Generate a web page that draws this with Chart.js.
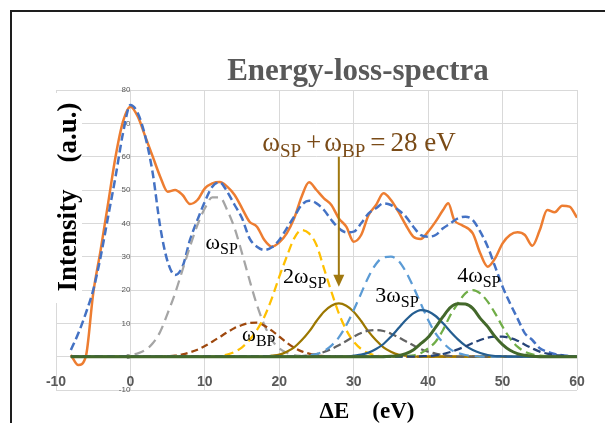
<!DOCTYPE html>
<html>
<head>
<meta charset="utf-8">
<script src="https://cdn.jsdelivr.net/npm/chart.js@4.4.1/dist/chart.umd.min.js"></script>
<style>
html, body { margin: 0; padding: 0; background: #fff; }
#wrap { width: 605px; height: 423px; position: relative; }
</style>
</head>
<body>
<div id="wrap"><canvas id="chart"></canvas></div>
<script>
'use strict';

// measured spectrum (orange)
const expX = [-8, -7, -6, -5, -4, -3, -2, -1, 0, 1, 2, 3, 4, 5, 6, 7, 8, 9, 10,
    11, 12, 13, 14, 15, 16, 17, 18, 19, 20, 21, 22, 23, 24, 25, 26, 27, 28, 29, 30,
    31, 32, 33, 34, 35, 36, 37, 38, 39, 40, 41, 42, 42.7, 43.5, 44.5,
    46, 47, 48, 49, 50, 51, 52, 53, 54, 55, 56, 57, 58, 59, 60];
const expY = [0.5, -2.5, 0, 19, 32, 46, 60, 70.5, 75,
    72, 66, 60, 54, 49.5, 50, 48.5, 45.8, 47, 50.5,
    52, 52.4, 51, 48.5, 44.5, 40.5, 39, 35, 33, 34.3,
    37, 41.5, 48, 52.3, 50, 47.5, 45.5, 41.5, 39, 34.5,
    36.5, 42.5, 45.5, 49, 47, 43.5, 39.5, 36, 35.3, 37.5,
    40.5, 44, 46, 41, 39.5,
    37, 31, 27, 29.5, 34, 36.5, 37.3, 36.5, 33.3, 38, 44, 43.3, 45.3, 45, 41.7];

// fitted sum (blue dashed), x = -8 .. 60
const fitStart = -8;
const fitY = [2, 7, 13, 20, 30, 42, 54, 67, 75.5,
    73, 66, 55, 39, 28.5, 24.5, 27, 35, 41, 46.5,
    51, 52.3, 49.5, 45.5, 41.5, 35.5, 33, 32, 32.8, 35,
    38.5, 42, 45.5, 46.8, 46, 44, 41, 38.5, 37.3, 37.5,
    40, 43, 44.5, 46, 45.5, 44, 42, 39, 36.5, 36,
    36.5, 38.5, 40, 41.5, 42, 41, 37.5, 33, 27, 21,
    16, 11.5, 7, 5, 2.5, 1.5, 0.8, 0.4, 0.2, 0];

// fitted components (start x, then one value per eV)
const spStart = -1;
const spY = [0, 0.5, 1, 2, 4, 7.5, 13, 19, 26, 33, 39.5, 44.5, 47.8, 47.8, 44, 38.5,
    31, 23, 15.5, 9.5, 5, 2.5, 1.2, 0.5, 0.2, 0];
const bpStart = 4;
const bpY = [0, 0.1, 0.3, 0.7, 1.3, 2.1, 3.2, 4.5, 5.9, 7.3, 8.6, 9.5, 10.1, 10.2,
    9.3, 7.8, 6, 4.2, 2.7, 1.6, 0.9, 0.4, 0.2, 0];
const sp2Start = 11;
const sp2Y = [0, 0.2, 0.6, 1.4, 2.8, 5, 8, 12, 17.5, 24, 30, 35.5, 38, 37, 33.5,
    26.5, 19.5, 13, 8, 4.5, 2.3, 1, 0.4, 0];
const sumStart = 18;
const sumY = [0, 0.3, 0.6, 1.5, 2.8, 4.9, 7.5, 10.7, 13.5, 15.3, 16, 15.3, 13.5,
    10.7, 7.5, 4.9, 2.8, 1.5, 0.6, 0.3, 0];
const grayStart = 22;
const grayY = [0, 0.2, 0.4, 0.8, 1.4, 2.3, 3.4, 4.7, 6, 7.1, 7.8, 8, 7.7, 6.9, 5.8,
    4.6, 3.4, 2.3, 1.5, 0.9, 0.5, 0.2, 0];
const sp3Start = 23;
const sp3Y = [0, 0.4, 0.8, 1.7, 3.3, 5.8, 9.4, 14, 19, 24, 27.8, 29.8, 30, 28.8,
    25.5, 21, 16, 11, 7, 4.2, 2.2, 1.1, 0.5, 0.2, 0];
const dbStart = 29;
const dbY = [0, 0.3, 0.6, 1.2, 2.3, 3.8, 6, 8.5, 11, 13, 14, 13.6, 12.2, 10, 7.5,
    5.2, 3.3, 2, 1.1, 0.5, 0.2, 0.1, 0];
const sp4Start = 36;
const sp4Y = [0, 0.2, 0.4, 1, 2.5, 4.5, 8, 12.5, 16, 19, 20, 19, 16.5, 13, 9, 5.5,
    3, 1.5, 0.7, 0.3, 0.1, 0];
const dgStart = 34;
const dgY = [0, 0.1, 0.3, 0.9, 2, 3.9, 5.8, 8.8, 12, 14.8, 15.9, 15.8, 14.5, 11.5,
    9, 6, 3.6, 1.9, 0.9, 0.4, 0.1, 0];
const nvStart = 38;
const nvY = [0, 0.1, 0.2, 0.4, 0.8, 1.4, 2.2, 3.1, 4.1, 5, 5.7, 6, 6, 5.6, 4.8,
    3.6, 2.5, 1.5, 0.9, 0.5, 0.3, 0.1, 0];

const xTicks = [-10, 0, 10, 20, 30, 40, 50, 60];
const yTicks = [-10, 0, 10, 20, 30, 40, 50, 60, 70, 80];

const arrowFrom = [28, 60];
const arrowTo = [28, 21];

function series(start, vals) {
    let pts = [];
    if (start > -8) pts.push({x: -8, y: 0});
    for (let i = 0; i < vals.length; i++) {
        pts.push({x: start + i, y: vals[i]});
    }
    if (start + vals.length - 1 < 60) pts.push({x: 60, y: 0});
    return pts;
}

function line(data, color, width, dash) {
    return {
        data: data,
        borderColor: color,
        backgroundColor: color,
        borderWidth: width,
        borderDash: dash || [],
        pointRadius: 0,
        fill: false,
        cubicInterpolationMode: 'monotone'
    };
}

let expData = expX.map((x, i) => ({x: x, y: expY[i]}));

// excel order: later series on top
let datasets = [
    line(expData, '#ED7D31', 2.5),
    line(series(fitStart, fitY), '#4472C4', 2.5, [8, 4]),
    line(series(spStart, spY), '#A5A5A5', 2.25, [10, 6]),
    line(series(bpStart, bpY), '#9E480E', 2.25, [7, 4]),
    line(series(sp2Start, sp2Y), '#FFC000', 2.25, [9, 5]),
    line(series(sumStart, sumY), '#9C7700', 2.25),
    line(series(grayStart, grayY), '#636363', 2.25, [8, 4]),
    line(series(sp3Start, sp3Y), '#5B9BD5', 2.25, [10, 6]),
    line(series(dbStart, dbY), '#255E91', 2.25),
    line(series(sp4Start, sp4Y), '#70AD47', 2.25, [9, 5]),
    line(series(nvStart, nvY), '#264478', 2.25, [8, 4]),
    line(series(dgStart, dgY), '#43682B', 3)
].reverse();

function richText(ctx, parts, x, y, color) {
    ctx.fillStyle = color;
    ctx.textAlign = 'left';
    ctx.textBaseline = 'alphabetic';
    let cx = x;
    for (const p of parts) {
        ctx.font = p[1];
        ctx.fillText(p[0], cx, y + (p[2] || 0));
        cx += ctx.measureText(p[0]).width + (p[3] || 0);
    }
}

const big = '27px "Liberation Serif"';
const bigSub = '19px "Liberation Serif"';
const sm = '22px "Liberation Serif"';
const smSub = '16px "Liberation Serif"';

const notes = [
    {x: 10.1, y: 32.4, parts: [['ω', sm], ['SP', smSub, 5]]},
    {x: 15.0, y: 4.6, parts: [['ω', '21px "Liberation Serif"'], ['BP', smSub, 5]]},
    {x: 20.5, y: 22.2, parts: [['2ω', sm], ['SP', smSub, 5]]},
    {x: 32.9, y: 16.5, parts: [['3ω', sm], ['SP', smSub, 5]]},
    {x: 43.9, y: 22.5, parts: [['4ω', sm], ['SP', smSub, 5]]}
];

const decor = {
    id: 'decor',
    beforeDraw(chart) {
        const ctx = chart.ctx;
        ctx.save();
        ctx.fillStyle = '#ffffff';
        ctx.fillRect(0, 0, chart.width, chart.height);
        ctx.restore();
    },
    afterDraw(chart) {
        const ctx = chart.ctx;
        const xs = chart.scales.x;
        const ys = chart.scales.y;
        ctx.save();

        // frame
        ctx.strokeStyle = '#1e1e1e';
        ctx.lineWidth = 2;
        ctx.beginPath();
        ctx.moveTo(11, chart.height);
        ctx.lineTo(11, 11);
        ctx.lineTo(chart.width, 11);
        ctx.stroke();

        // title
        ctx.fillStyle = '#595959';
        ctx.font = 'bold 31px "Liberation Serif"';
        ctx.textAlign = 'center';
        ctx.textBaseline = 'alphabetic';
        ctx.fillText('Energy-loss-spectra', 358, 80);

        // y title with white box
        ctx.fillStyle = '#ffffff';
        ctx.fillRect(40, 93, 42, 210);
        ctx.save();
        ctx.translate(76, 197);
        ctx.rotate(-Math.PI / 2);
        ctx.fillStyle = '#000000';
        ctx.font = 'bold 27px "Liberation Serif"';
        ctx.textAlign = 'center';
        ctx.fillText('Intensity    (a.u.)', 0, 0);
        ctx.restore();

        // x title
        ctx.fillStyle = '#000000';
        ctx.font = 'bold 23px "Liberation Serif"';
        ctx.textAlign = 'center';
        ctx.fillText('ΔE    (eV)', 367, 418);

        // arrow
        const ax = xs.getPixelForValue(arrowFrom[0]);
        const ay0 = ys.getPixelForValue(arrowFrom[1]);
        const ay1 = ys.getPixelForValue(arrowTo[1]);
        ctx.strokeStyle = '#A0780F';
        ctx.fillStyle = '#A0780F';
        ctx.lineWidth = 2;
        ctx.beginPath();
        ctx.moveTo(ax, ay0);
        ctx.lineTo(ax, ay1 - 10);
        ctx.stroke();
        ctx.beginPath();
        ctx.moveTo(ax - 5.5, ay1 - 12);
        ctx.lineTo(ax + 5.5, ay1 - 12);
        ctx.lineTo(ax, ay1);
        ctx.closePath();
        ctx.fill();

        // big note
        richText(ctx, [['ω', big], ['SP', bigSub, 6, 5], ['+', big, 0, 3], ['ω', big],
            ['BP', bigSub, 6, 5], ['=', big, 0, 5], ['28 eV', big]],
            xs.getPixelForValue(17.7), ys.getPixelForValue(61.6), '#7A4B17');

        // peak labels
        for (const n of notes) {
            richText(ctx, n.parts, xs.getPixelForValue(n.x), ys.getPixelForValue(n.y), '#000000');
        }
        ctx.restore();
    }
};

Chart.defaults.font.family = '"Liberation Sans", sans-serif';

const chart = new Chart(document.getElementById('chart'), {
    type: 'line',
    data: {datasets: datasets},
    plugins: [decor],
    options: {
        responsive: true,
        maintainAspectRatio: false,
        animation: false,
        devicePixelRatio: 1,
        layout: {padding: {left: 56, right: 28, top: 90, bottom: 33}},
        plugins: {legend: {display: false}, tooltip: {enabled: false}, title: {display: false}},
        scales: {
            x: {
                type: 'linear',
                position: {y: 0},
                min: xTicks[0],
                max: xTicks[xTicks.length - 1],
                afterBuildTicks: (s) => { s.ticks = xTicks.map(v => ({value: v})); },
                grid: {color: '#d9d9d9', lineWidth: 1, drawTicks: false},
                border: {display: false},
                ticks: {
                    padding: 17,
                    color: '#595959',
                    font: {size: 14, weight: 'bold', family: '"Liberation Sans"'}
                }
            },
            y: {
                type: 'linear',
                position: {x: 0},
                min: yTicks[0],
                max: yTicks[yTicks.length - 1],
                afterBuildTicks: (s) => { s.ticks = yTicks.map(v => ({value: v})); },
                grid: {color: '#d9d9d9', lineWidth: 1, drawTicks: false},
                border: {display: false},
                ticks: {
                    padding: 9,
                    color: '#595959',
                    font: {size: 8, family: '"Liberation Sans"'}
                }
            }
        }
    }
});
</script>
</body>
</html>
